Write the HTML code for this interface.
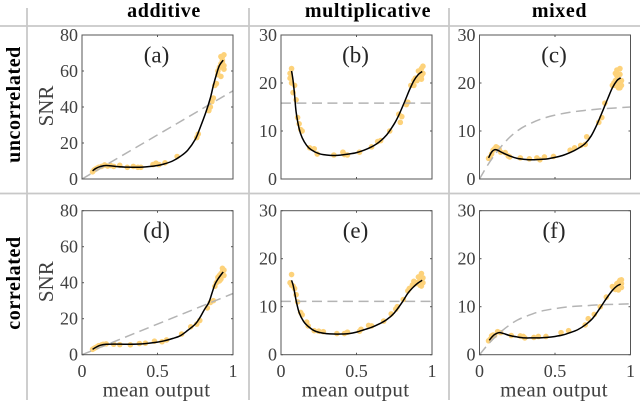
<!DOCTYPE html>
<html>
<head>
<meta charset="utf-8">
<style>
html,body{margin:0;padding:0;background:#fff;}
svg{display:block;font-family:"Liberation Serif",serif;filter:blur(0.35px);}
.tick{font-size:18px;fill:#404040;}
.hdr{font-size:20px;font-weight:bold;fill:#000;text-anchor:middle;letter-spacing:.6px;}
.lab{font-size:21px;fill:#404040;}
.tag{font-size:23px;fill:#262626;text-anchor:middle;}
</style>
</head>
<body>
<svg id="fig" width="640" height="403" viewBox="0 0 640 403" xmlns="http://www.w3.org/2000/svg">
<g stroke="#c8c8c8" stroke-width="1.8">
<line x1="0" y1="26" x2="640" y2="26"/>
<line x1="0" y1="193.5" x2="640" y2="193.5"/>
<line x1="27" y1="8" x2="27" y2="400"/>
<line x1="249" y1="8" x2="249" y2="400"/>
<line x1="449" y1="8" x2="449" y2="400"/>
</g>
<text class="hdr" x="164" y="17">additive</text>
<text class="hdr" x="368" y="17">multiplicative</text>
<text class="hdr" x="559.5" y="17">mixed</text>
<text class="hdr" transform="translate(20,104.5) rotate(-90)">uncorrelated</text>
<text class="hdr" transform="translate(20,283) rotate(-90)">correlated</text>
</svg>
<script>
const xTicks = [0, 0.5, 1];
const xTickLabels = ["0", "0.5", "1"];
const yTicksWide = [0, 20, 40, 60, 80];
const yTicksNarrow = [0, 10, 20, 30];

const curveXA = [.07,.09,.12,.16,.22,.3,.4,.5,.55,.6,.65,.7,.75,.78,.82,.85,.87,.89,.91,.935];
const curveYA = [4.5,5.8,6.9,7.5,7,6.6,6.6,7.5,8.5,10,12.5,16,22,28,37,45,52,58,63,66];
const dashXA = [0,1];
const dashYA = [0,49];
const dotXA = [.07,.08,.09,.1,.11,.13,.15,.17,.19,.21,.25,.3,.34,.37,.39,.47,.49,.51,.55,.63,.76,.77,.84,.85,.86,.87,.88,.89,.9,.9,.91,.92,.92,.93,.93,.94,.94,.92,.93,.94];
const dotYA = [4,5,5.5,6,6.5,7,7.8,7.2,7.5,7,7.6,6.5,7,6.5,6.5,8,8.8,8,9,12.5,23,25,38,40,43,45,52,53,58,60,62,57,64,66,68,69,61,68,65,63];

const curveXB = [.07,.08,.09,.1,.12,.14,.17,.2,.25,.3,.35,.4,.45,.5,.55,.6,.65,.7,.75,.78,.82,.85,.88,.91,.935];
const curveYB = [22.5,20.5,17.5,14,10.5,8.6,7,6.1,5.3,5,4.9,5,5.2,5.5,6,6.7,7.7,9.2,11.5,13.3,16.2,18.5,20.5,21.8,22.4];
const dashXB = [0,1];
const dashYB = [15.8,15.8];
const dotXB = [.06,.06,.07,.07,.08,.09,.1,.11,.12,.13,.14,.19,.22,.24,.35,.41,.42,.44,.52,.6,.64,.66,.72,.78,.79,.8,.83,.84,.86,.88,.88,.89,.9,.91,.92,.93,.93,.94,.94,.93];
const dotYB = [22,21,23,20,18,19.5,16.5,12.8,11.5,10.3,10,6.5,6.3,5.2,5,5.6,5.1,5,5.6,6.7,7.8,8,10,13.5,11.8,13,15.5,16,19.5,20.5,19.5,21,20.5,22.5,21,21.5,23,23.5,22,20.8];

const curveXC = [.06,.08,.1,.12,.15,.2,.25,.3,.35,.4,.45,.5,.55,.6,.65,.7,.74,.78,.82,.85,.88,.91,.935];
const curveYC = [4.4,5.6,6.1,6,5.5,4.8,4.3,4.1,4,4.1,4.2,4.5,4.9,5.5,6.3,7.4,9,11.5,14.5,16.8,19,20.5,21.1];
const dashXC = [0,.05,.1,.15,.2,.25,.3,.4,.5,.6,.7,.8,.9,1];
const dashYC = [0,2.7,5,7,8.7,10,11,12.4,13.3,13.9,14.3,14.6,14.8,15];
const dotXC = [.06,.07,.08,.09,.1,.11,.12,.13,.14,.17,.19,.2,.27,.33,.38,.4,.43,.49,.6,.63,.67,.7,.71,.79,.81,.83,.88,.89,.9,.9,.91,.91,.92,.93,.93,.94,.94,.92,.93,.9];
const dotYC = [4.3,4.5,5.2,6,6.3,6.7,6.5,6.2,5.6,5.5,4.8,4.6,4.4,4.2,4.4,4,4.6,4.7,6,6.5,7,7.2,8.8,11.8,12.8,15.8,19.5,20,19.5,22,22.7,21.5,19,23,21.8,20.5,19.5,20,19,20.5];

const curveXD = [.07,.09,.12,.16,.22,.3,.4,.5,.55,.6,.65,.7,.75,.78,.81,.84,.86,.88,.9,.935];
const curveYD = [3,4,5.2,5.8,5.9,5.8,6,7,7.8,9,10.5,13.5,17,20.5,25,29,34,39,42,46];
const dashXD = [0,1];
const dashYD = [0,34];
const dotXD = [.07,.08,.09,.1,.11,.13,.14,.16,.21,.25,.32,.38,.42,.48,.53,.56,.66,.72,.76,.78,.83,.85,.87,.88,.89,.9,.91,.92,.93,.94,.93,.92,.91,.94,.93,.9];
const dotYD = [3,3.5,4,4.4,5,5.5,5.8,6,5.8,5.6,5.5,6.2,6.4,7.5,7.2,8.2,11.5,15.5,17,19,26,29,30,38,40,43,44,45,46,47,48,42,41,44,45,41];

const curveXE = [.07,.08,.09,.1,.12,.15,.18,.22,.26,.3,.35,.4,.45,.5,.55,.6,.65,.7,.75,.8,.84,.88,.91,.935];
const curveYE = [15.5,14.5,13,11.3,8.8,6.9,5.9,5,4.6,4.4,4.3,4.3,4.4,4.7,5.2,5.7,6.4,7.3,8.7,10.8,12.8,14.2,15,15.5];
const dashXE = [0,1];
const dashYE = [11.1,11.1];
const dotXE = [.06,.07,.07,.08,.09,.1,.11,.13,.14,.17,.18,.22,.25,.28,.37,.42,.44,.52,.53,.58,.6,.68,.73,.76,.77,.81,.84,.85,.87,.88,.89,.9,.91,.92,.93,.93,.94,.94,.92,.93];
const dotYE = [15,16.7,14.5,14.3,13.8,12.5,11,8.8,8.3,6.8,6,5,4.9,4.8,4.4,4.4,4.7,4.9,5.3,6.1,6,7,8.5,9.5,10,11.5,13.3,13.8,14.5,15.3,14.8,15,16.2,15.5,15,16.9,16,15,14.5,14.3];

const curveXF = [.065,.08,.1,.13,.16,.2,.25,.3,.35,.4,.45,.5,.55,.6,.65,.7,.75,.8,.84,.88,.91,.935];
const curveYF = [3,3.6,4.2,4.6,4.4,4,3.7,3.5,3.5,3.5,3.6,3.8,4.1,4.6,5.2,6.2,7.6,9.8,11.7,13.4,14.3,14.7];
const dashXF = [0,.05,.1,.15,.2,.25,.3,.4,.5,.6,.7,.8,.9,1];
const dashYF = [0,1.9,3.6,5,6.2,7.2,7.9,9,9.6,10,10.2,10.4,10.5,10.6];
const dotXF = [.06,.07,.08,.09,.1,.12,.14,.21,.27,.29,.3,.36,.39,.44,.54,.59,.7,.72,.76,.8,.84,.88,.89,.9,.91,.92,.93,.93,.94,.94,.92,.91,.93,.94,.9,.92];
const dotYF = [2.9,3.2,3.9,4.1,4,4.8,4.6,4,3.9,3.8,3.5,3.6,3.8,3.8,4.6,5,6.2,7.5,8.4,10,12,14.2,13.8,13.6,14.5,15,15.5,14.2,15.6,14.8,13.5,14.8,14.9,14,13.9,14.2];

const panelLabels = ["(a)", "(b)", "(c)", "(d)", "(e)", "(f)"];
const panelYMax = [80, 30, 30, 80, 30, 30];
const panelYTicks = [yTicksWide, yTicksNarrow, yTicksNarrow, yTicksWide, yTicksNarrow, yTicksNarrow];
const curveXs = [curveXA, curveXB, curveXC, curveXD, curveXE, curveXF];
const curveYs = [curveYA, curveYB, curveYC, curveYD, curveYE, curveYF];
const dashXs = [dashXA, dashXB, dashXC, dashXD, dashXE, dashXF];
const dashYs = [dashYA, dashYB, dashYC, dashYD, dashYE, dashYF];
const dotXs = [dotXA, dotXB, dotXC, dotXD, dotXE, dotXF];
const dotYs = [dotYA, dotYB, dotYC, dotYD, dotYE, dotYF];

const NS = "http://www.w3.org/2000/svg";
const fig = document.getElementById("fig");
const lefts = [82, 281, 479.5];
const tops = [35, 210.7];
const plotW = 151;
const plotH = 144;

function mk(parent, tag, attrs, txt) {
  const e = document.createElementNS(NS, tag);
  for (const k in attrs) e.setAttribute(k, attrs[k]);
  if (txt !== undefined) e.textContent = txt;
  parent.appendChild(e);
  return e;
}
function smooth(pts) {
  let d = "M" + pts[0][0].toFixed(2) + " " + pts[0][1].toFixed(2);
  for (let i = 0; i < pts.length - 1; i++) {
    const p0 = pts[Math.max(i - 1, 0)], p1 = pts[i], p2 = pts[i + 1], p3 = pts[Math.min(i + 2, pts.length - 1)];
    d += " C" + (p1[0] + (p2[0] - p0[0]) / 6).toFixed(2) + " " + (p1[1] + (p2[1] - p0[1]) / 6).toFixed(2) +
         " " + (p2[0] - (p3[0] - p1[0]) / 6).toFixed(2) + " " + (p2[1] - (p3[1] - p1[1]) / 6).toFixed(2) +
         " " + p2[0].toFixed(2) + " " + p2[1].toFixed(2);
  }
  return d;
}

panelLabels.forEach(function (label, i) {
  const row = Math.floor(i / 3), col = i % 3;
  const L = lefts[col], T = tops[row], B = T + plotH, R = L + plotW;
  const ymax = panelYMax[i];
  const sx = function (v) { return L + v * plotW; };
  const sy = function (v) { return B - v / ymax * plotH; };

  const g = mk(fig, "g", {});
  
  

  dotXs[i].forEach(function (x, k) {
    const c = mk(g, "circle", { cx: sx(x), cy: sy(dotYs[i][k]), r: 2.8, fill: "#fdd27a" });
    
    
  });

  const dashPts = dashXs[i].map(function (x, k) { return [sx(x), sy(dashYs[i][k])]; });
  const dash = mk(g, "path", { d: smooth(dashPts), fill: "none", stroke: "#b4b4b4", "stroke-width": 1.5, "stroke-dasharray": "10 5.5" });
  
  

  const curvePts = curveXs[i].map(function (x, k) { return [sx(x), sy(curveYs[i][k])]; });
  const curve = mk(g, "path", { d: smooth(curvePts), fill: "none", stroke: "#000", "stroke-width": 1.5 });
  
  

  const box = mk(g, "rect", { x: L, y: T, width: plotW, height: plotH, fill: "none", stroke: "#555", "stroke-width": 1 });
  
  

  xTicks.forEach(function (v, k) {
    const x = sx(v);
    const t1 = mk(g, "line", { x1: x, y1: B, x2: x, y2: B - 2, stroke: "#555", "stroke-width": 1 });
    
    
    const t2 = mk(g, "line", { x1: x, y1: T, x2: x, y2: T + 2, stroke: "#555", "stroke-width": 1 });
    
    
    if (row === 1) {
      const tl = mk(g, "text", { class: "tick", x: x, y: B + 22.5, "text-anchor": "middle" }, xTickLabels[k]);
      
      
    }
  });

  panelYTicks[i].forEach(function (v) {
    const y = sy(v);
    const t1 = mk(g, "line", { x1: L, y1: y, x2: L + 2, y2: y, stroke: "#555", "stroke-width": 1 });
    
    
    const t2 = mk(g, "line", { x1: R, y1: y, x2: R - 2, y2: y, stroke: "#555", "stroke-width": 1 });
    
    
    const tl = mk(g, "text", { class: "tick", x: L - 4, y: y + 6, "text-anchor": "end" }, String(v));
    
    
  });

  const tag = mk(g, "text", { class: "tag", x: L + plotW * 0.5 - 1, y: T + 27.5 }, label);
  
  

  if (col === 0) {
    const yl = mk(g, "text", { class: "lab", "text-anchor": "middle", transform: "translate(" + (L - 29) + "," + (T + 71) + ") rotate(-90)" }, "SNR");
    
    
  }
  if (row === 1) {
    const xl = mk(g, "text", { class: "lab", x: L + plotW / 2 - 1, y: B + 42, "text-anchor": "middle", "letter-spacing": ".3" }, "mean output");
    
    
  }
});
</script>
</body>
</html>
